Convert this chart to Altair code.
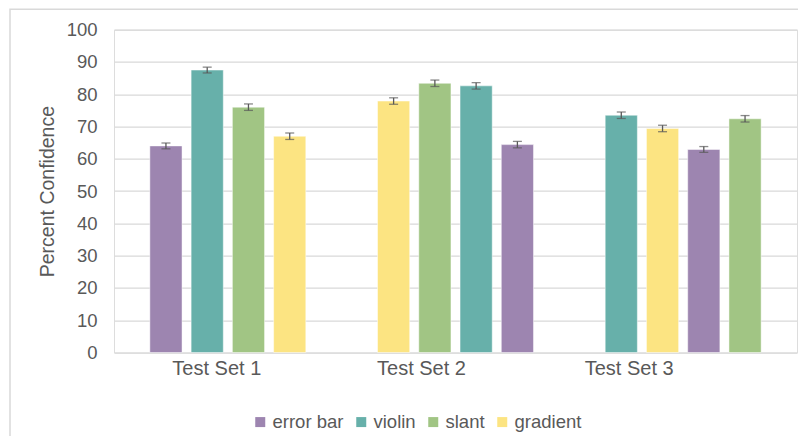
import altair as alt
import pandas as pd

# ---- data ----
test_sets = ["Test Set 1"] * 4 + ["Test Set 2"] * 4 + ["Test Set 3"] * 4
slots = [0, 1, 2, 3, 0, 1, 2, 3, 0, 1, 2, 3]
techniques = ["error bar", "violin", "slant", "gradient",
              "gradient", "slant", "violin", "error bar",
              "violin", "gradient", "error bar", "slant"]
confidence = [64.0, 87.5, 76.0, 67.0,
              77.9, 83.4, 82.6, 64.4,
              73.5, 69.4, 62.9, 72.4]
errors = [0.9, 0.9, 1.0, 1.0,
          1.0, 1.0, 1.0, 1.0,
          1.0, 1.0, 0.9, 1.0]

legend_order = ["error bar", "violin", "slant", "gradient"]
legend_colors = ["#9d85b0", "#67b0aa", "#a1c584", "#fce482"]
y_ticks = list(range(0, 101, 10))

df = pd.DataFrame({
    "set": test_sets,
    "slot": slots,
    "technique": techniques,
    "conf": confidence,
    "err": errors,
})
df["lo"] = df["conf"] - df["err"]
df["hi"] = df["conf"] + df["err"]

FONT = "Liberation Sans"
GREY = "#595959"

# category labels in the reference sit left of their bar groups
x_label_offset = {
    "condition": [
        {"test": "datum.value === 'Test Set 1'", "value": -11},
        {"test": "datum.value === 'Test Set 2'", "value": -34},
    ],
    "value": -54,
}

x_enc = alt.X("set:N", title=None,
              scale=alt.Scale(paddingInner=0.315, paddingOuter=0.1575),
              axis=alt.Axis(labelAngle=0, ticks=False, domain=False,
                            labelFontSize=20, labelColor=GREY, labelFont=FONT,
                            labelPadding=6, labelOffset=x_label_offset))
xo_enc = alt.XOffset("slot:O", scale=alt.Scale(paddingInner=0.22, paddingOuter=0))
y_scale = alt.Scale(domain=[0, 100], nice=False)
y_axis = alt.Axis(values=y_ticks, ticks=False, domain=False,
                  labelOverlap=False,
                  gridColor="#d9d9d9", gridWidth=1.2,
                  labelFontSize=18.5, labelColor=GREY, labelFont=FONT,
                  labelPadding=17,
                  titleFontSize=19.5, titleColor=GREY, titleFont=FONT,
                  titleFontWeight="normal", titlePadding=9)

base = alt.Chart(df)

bars = base.mark_bar(stroke="white", strokeWidth=0.8, strokeOpacity=0.6).encode(
    x=x_enc,
    xOffset=xo_enc,
    y=alt.Y("conf:Q", title="Percent Confidence", scale=y_scale, axis=y_axis),
    color=alt.Color("technique:N",
                    scale=alt.Scale(domain=legend_order, range=legend_colors),
                    legend=alt.Legend(title=None, orient="none", direction="horizontal",
                                      legendX=137, legendY=383,
                                      symbolType="square", symbolSize=100,
                                      symbolStrokeWidth=0,
                                      labelFontSize=18.5, labelColor=GREY, labelFont=FONT,
                                      labelOffset=3, columnPadding=8)),
)

err_line = base.mark_rule(color=GREY, strokeWidth=1.3).encode(
    x=x_enc,
    xOffset=xo_enc,
    y=alt.Y("lo:Q", title="Percent Confidence", scale=y_scale, axis=y_axis),
    y2="hi:Q",
)
cap_lo = base.mark_tick(color=GREY, thickness=1.3, size=9).encode(
    x=x_enc, xOffset=xo_enc,
    y=alt.Y("lo:Q", title="Percent Confidence", scale=y_scale, axis=y_axis))
cap_hi = base.mark_tick(color=GREY, thickness=1.3, size=9).encode(
    x=x_enc, xOffset=xo_enc,
    y=alt.Y("hi:Q", title="Percent Confidence", scale=y_scale, axis=y_axis))

frame = alt.Chart(pd.DataFrame({"a": [0]})).mark_rect(
    fill=None, stroke="#d9d9d9", strokeWidth=1.5).encode(
    x=alt.value(-104), x2=alt.value(760), y=alt.value(-20.5), y2=alt.value(500))

chart = alt.layer(frame, bars, err_line, cap_lo, cap_hi).properties(
    width=683, height=322.8,
    autosize=alt.AutoSizeParams(type="none"),
    padding={"left": 106, "top": 21.7, "right": 1, "bottom": 83.5},
).configure_view(strokeWidth=0).configure(font=FONT)

chart.save("out.html", embed_options={"renderer": "svg", "actions": False})
